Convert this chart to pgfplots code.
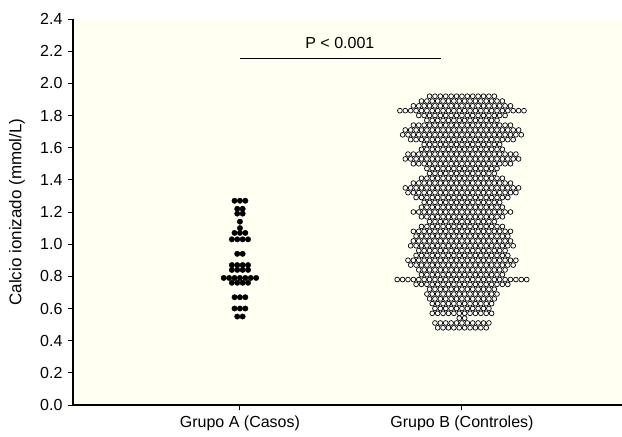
\documentclass[border=0pt]{standalone}
\usepackage{fontspec}
\setmainfont{Liberation Sans}
\usepackage{pgfplots}
\usepackage{pgfplotstable}
\pgfplotsset{compat=1.18}
\definecolor{bgc}{RGB}{255,255,242}
\pgfplotstableread[row sep=\\]{
s y\\
-1 1.27\\ 0 1.27\\ 1 1.27\\
-0.5 1.22\\ 0.5 1.22\\
-0.5 1.19\\ 0.5 1.19\\
0 1.14\\
0 1.10\\
-1 1.07\\ 0 1.07\\ 1 1.07\\
-1.5 1.03\\ -0.5 1.03\\ 0.5 1.03\\ 1.5 1.03\\
-0.5 0.94\\ 0.5 0.94\\
-1.5 0.87\\ -0.5 0.87\\ 0.5 0.87\\ 1.5 0.87\\
-1.5 0.84\\ -0.5 0.84\\ 0.5 0.84\\ 1.5 0.84\\
-3 0.79\\ -2 0.79\\ -1 0.79\\ 0 0.79\\ 1 0.79\\ 2 0.79\\ 3 0.79\\
-1.5 0.76\\ -0.5 0.76\\ 0.5 0.76\\ 1.5 0.76\\
-1 0.67\\ 0 0.67\\ 1 0.67\\
-1 0.60\\ 0 0.60\\ 1 0.60\\
-0.5 0.55\\ 0.5 0.55\\
}\grupoA
\pgfplotstableread[row sep=\\]{
s y\\
-6 1.92\\ -5 1.92\\ -4 1.92\\ -3 1.92\\ -2 1.92\\ -1 1.92\\ 0 1.92\\ 1 1.92\\ 2 1.92\\ 3 1.92\\ 4 1.92\\ 5 1.92\\ 6 1.92\\
-7.5 1.89\\ -6.5 1.89\\ -5.5 1.89\\ -4.5 1.89\\ -3.5 1.89\\ -2.5 1.89\\ -1.5 1.89\\ -0.5 1.89\\ 0.5 1.89\\ 1.5 1.89\\ 2.5 1.89\\ 3.5 1.89\\ 4.5 1.89\\ 5.5 1.89\\ 6.5 1.89\\ 7.5 1.89\\
-9 1.86\\ -8 1.86\\ -7 1.86\\ -6 1.86\\ -5 1.86\\ -4 1.86\\ -3 1.86\\ -2 1.86\\ -1 1.86\\ 0 1.86\\ 1 1.86\\ 2 1.86\\ 3 1.86\\ 4 1.86\\ 5 1.86\\ 6 1.86\\ 7 1.86\\ 8 1.86\\ 9 1.86\\
-11.5 1.83\\ -10.5 1.83\\ -9.5 1.83\\ -8.5 1.83\\ -7.5 1.83\\ -6.5 1.83\\ -5.5 1.83\\ -4.5 1.83\\ -3.5 1.83\\ -2.5 1.83\\ -1.5 1.83\\ -0.5 1.83\\ 0.5 1.83\\ 1.5 1.83\\ 2.5 1.83\\ 3.5 1.83\\ 4.5 1.83\\ 5.5 1.83\\ 6.5 1.83\\ 7.5 1.83\\ 8.5 1.83\\ 9.5 1.83\\ 10.5 1.83\\ 11.5 1.83\\
-8 1.80\\ -7 1.80\\ -6 1.80\\ -5 1.80\\ -4 1.80\\ -3 1.80\\ -2 1.80\\ -1 1.80\\ 0 1.80\\ 1 1.80\\ 2 1.80\\ 3 1.80\\ 4 1.80\\ 5 1.80\\ 6 1.80\\ 7 1.80\\ 8 1.80\\
-6.5 1.77\\ -5.5 1.77\\ -4.5 1.77\\ -3.5 1.77\\ -2.5 1.77\\ -1.5 1.77\\ -0.5 1.77\\ 0.5 1.77\\ 1.5 1.77\\ 2.5 1.77\\ 3.5 1.77\\ 4.5 1.77\\ 5.5 1.77\\ 6.5 1.77\\
-9 1.74\\ -8 1.74\\ -7 1.74\\ -6 1.74\\ -5 1.74\\ -4 1.74\\ -3 1.74\\ -2 1.74\\ -1 1.74\\ 0 1.74\\ 1 1.74\\ 2 1.74\\ 3 1.74\\ 4 1.74\\ 5 1.74\\ 6 1.74\\ 7 1.74\\ 8 1.74\\ 9 1.74\\
-10.5 1.71\\ -9.5 1.71\\ -8.5 1.71\\ -7.5 1.71\\ -6.5 1.71\\ -5.5 1.71\\ -4.5 1.71\\ -3.5 1.71\\ -2.5 1.71\\ -1.5 1.71\\ -0.5 1.71\\ 0.5 1.71\\ 1.5 1.71\\ 2.5 1.71\\ 3.5 1.71\\ 4.5 1.71\\ 5.5 1.71\\ 6.5 1.71\\ 7.5 1.71\\ 8.5 1.71\\ 9.5 1.71\\ 10.5 1.71\\
-11 1.68\\ -10 1.68\\ -9 1.68\\ -8 1.68\\ -7 1.68\\ -6 1.68\\ -5 1.68\\ -4 1.68\\ -3 1.68\\ -2 1.68\\ -1 1.68\\ 0 1.68\\ 1 1.68\\ 2 1.68\\ 3 1.68\\ 4 1.68\\ 5 1.68\\ 6 1.68\\ 7 1.68\\ 8 1.68\\ 9 1.68\\ 10 1.68\\ 11 1.68\\
-9.5 1.65\\ -8.5 1.65\\ -7.5 1.65\\ -6.5 1.65\\ -5.5 1.65\\ -4.5 1.65\\ -3.5 1.65\\ -2.5 1.65\\ -1.5 1.65\\ -0.5 1.65\\ 0.5 1.65\\ 1.5 1.65\\ 2.5 1.65\\ 3.5 1.65\\ 4.5 1.65\\ 5.5 1.65\\ 6.5 1.65\\ 7.5 1.65\\ 8.5 1.65\\ 9.5 1.65\\
-7 1.62\\ -6 1.62\\ -5 1.62\\ -4 1.62\\ -3 1.62\\ -2 1.62\\ -1 1.62\\ 0 1.62\\ 1 1.62\\ 2 1.62\\ 3 1.62\\ 4 1.62\\ 5 1.62\\ 6 1.62\\ 7 1.62\\
-7.5 1.59\\ -6.5 1.59\\ -5.5 1.59\\ -4.5 1.59\\ -3.5 1.59\\ -2.5 1.59\\ -1.5 1.59\\ -0.5 1.59\\ 0.5 1.59\\ 1.5 1.59\\ 2.5 1.59\\ 3.5 1.59\\ 4.5 1.59\\ 5.5 1.59\\ 6.5 1.59\\ 7.5 1.59\\
-10 1.56\\ -9 1.56\\ -8 1.56\\ -7 1.56\\ -6 1.56\\ -5 1.56\\ -4 1.56\\ -3 1.56\\ -2 1.56\\ -1 1.56\\ 0 1.56\\ 1 1.56\\ 2 1.56\\ 3 1.56\\ 4 1.56\\ 5 1.56\\ 6 1.56\\ 7 1.56\\ 8 1.56\\ 9 1.56\\ 10 1.56\\
-10.5 1.53\\ -9.5 1.53\\ -8.5 1.53\\ -7.5 1.53\\ -6.5 1.53\\ -5.5 1.53\\ -4.5 1.53\\ -3.5 1.53\\ -2.5 1.53\\ -1.5 1.53\\ -0.5 1.53\\ 0.5 1.53\\ 1.5 1.53\\ 2.5 1.53\\ 3.5 1.53\\ 4.5 1.53\\ 5.5 1.53\\ 6.5 1.53\\ 7.5 1.53\\ 8.5 1.53\\ 9.5 1.53\\ 10.5 1.53\\
-9 1.50\\ -8 1.50\\ -7 1.50\\ -6 1.50\\ -5 1.50\\ -4 1.50\\ -3 1.50\\ -2 1.50\\ -1 1.50\\ 0 1.50\\ 1 1.50\\ 2 1.50\\ 3 1.50\\ 4 1.50\\ 5 1.50\\ 6 1.50\\ 7 1.50\\ 8 1.50\\ 9 1.50\\
-6.5 1.47\\ -5.5 1.47\\ -4.5 1.47\\ -3.5 1.47\\ -2.5 1.47\\ -1.5 1.47\\ -0.5 1.47\\ 0.5 1.47\\ 1.5 1.47\\ 2.5 1.47\\ 3.5 1.47\\ 4.5 1.47\\ 5.5 1.47\\ 6.5 1.47\\
-6 1.44\\ -5 1.44\\ -4 1.44\\ -3 1.44\\ -2 1.44\\ -1 1.44\\ 0 1.44\\ 1 1.44\\ 2 1.44\\ 3 1.44\\ 4 1.44\\ 5 1.44\\ 6 1.44\\
-7.5 1.41\\ -6.5 1.41\\ -5.5 1.41\\ -4.5 1.41\\ -3.5 1.41\\ -2.5 1.41\\ -1.5 1.41\\ -0.5 1.41\\ 0.5 1.41\\ 1.5 1.41\\ 2.5 1.41\\ 3.5 1.41\\ 4.5 1.41\\ 5.5 1.41\\ 6.5 1.41\\ 7.5 1.41\\
-9 1.38\\ -8 1.38\\ -7 1.38\\ -6 1.38\\ -5 1.38\\ -4 1.38\\ -3 1.38\\ -2 1.38\\ -1 1.38\\ 0 1.38\\ 1 1.38\\ 2 1.38\\ 3 1.38\\ 4 1.38\\ 5 1.38\\ 6 1.38\\ 7 1.38\\ 8 1.38\\ 9 1.38\\
-10.5 1.35\\ -9.5 1.35\\ -8.5 1.35\\ -7.5 1.35\\ -6.5 1.35\\ -5.5 1.35\\ -4.5 1.35\\ -3.5 1.35\\ -2.5 1.35\\ -1.5 1.35\\ -0.5 1.35\\ 0.5 1.35\\ 1.5 1.35\\ 2.5 1.35\\ 3.5 1.35\\ 4.5 1.35\\ 5.5 1.35\\ 6.5 1.35\\ 7.5 1.35\\ 8.5 1.35\\ 9.5 1.35\\ 10.5 1.35\\
-10 1.32\\ -9 1.32\\ -8 1.32\\ -7 1.32\\ -6 1.32\\ -5 1.32\\ -4 1.32\\ -3 1.32\\ -2 1.32\\ -1 1.32\\ 0 1.32\\ 1 1.32\\ 2 1.32\\ 3 1.32\\ 4 1.32\\ 5 1.32\\ 6 1.32\\ 7 1.32\\ 8 1.32\\ 9 1.32\\ 10 1.32\\
-8.5 1.29\\ -7.5 1.29\\ -6.5 1.29\\ -5.5 1.29\\ -4.5 1.29\\ -3.5 1.29\\ -2.5 1.29\\ -1.5 1.29\\ -0.5 1.29\\ 0.5 1.29\\ 1.5 1.29\\ 2.5 1.29\\ 3.5 1.29\\ 4.5 1.29\\ 5.5 1.29\\ 6.5 1.29\\ 7.5 1.29\\ 8.5 1.29\\
-7 1.26\\ -6 1.26\\ -5 1.26\\ -4 1.26\\ -3 1.26\\ -2 1.26\\ -1 1.26\\ 0 1.26\\ 1 1.26\\ 2 1.26\\ 3 1.26\\ 4 1.26\\ 5 1.26\\ 6 1.26\\ 7 1.26\\
-7.5 1.23\\ -6.5 1.23\\ -5.5 1.23\\ -4.5 1.23\\ -3.5 1.23\\ -2.5 1.23\\ -1.5 1.23\\ -0.5 1.23\\ 0.5 1.23\\ 1.5 1.23\\ 2.5 1.23\\ 3.5 1.23\\ 4.5 1.23\\ 5.5 1.23\\ 6.5 1.23\\ 7.5 1.23\\
-9 1.20\\ -8 1.20\\ -7 1.20\\ -6 1.20\\ -5 1.20\\ -4 1.20\\ -3 1.20\\ -2 1.20\\ -1 1.20\\ 0 1.20\\ 1 1.20\\ 2 1.20\\ 3 1.20\\ 4 1.20\\ 5 1.20\\ 6 1.20\\ 7 1.20\\ 8 1.20\\ 9 1.20\\
-7.5 1.17\\ -6.5 1.17\\ -5.5 1.17\\ -4.5 1.17\\ -3.5 1.17\\ -2.5 1.17\\ -1.5 1.17\\ -0.5 1.17\\ 0.5 1.17\\ 1.5 1.17\\ 2.5 1.17\\ 3.5 1.17\\ 4.5 1.17\\ 5.5 1.17\\ 6.5 1.17\\ 7.5 1.17\\
-6 1.14\\ -5 1.14\\ -4 1.14\\ -3 1.14\\ -2 1.14\\ -1 1.14\\ 0 1.14\\ 1 1.14\\ 2 1.14\\ 3 1.14\\ 4 1.14\\ 5 1.14\\ 6 1.14\\
-7.5 1.11\\ -6.5 1.11\\ -5.5 1.11\\ -4.5 1.11\\ -3.5 1.11\\ -2.5 1.11\\ -1.5 1.11\\ -0.5 1.11\\ 0.5 1.11\\ 1.5 1.11\\ 2.5 1.11\\ 3.5 1.11\\ 4.5 1.11\\ 5.5 1.11\\ 6.5 1.11\\ 7.5 1.11\\
-9 1.08\\ -8 1.08\\ -7 1.08\\ -6 1.08\\ -5 1.08\\ -4 1.08\\ -3 1.08\\ -2 1.08\\ -1 1.08\\ 0 1.08\\ 1 1.08\\ 2 1.08\\ 3 1.08\\ 4 1.08\\ 5 1.08\\ 6 1.08\\ 7 1.08\\ 8 1.08\\ 9 1.08\\
-8.5 1.05\\ -7.5 1.05\\ -6.5 1.05\\ -5.5 1.05\\ -4.5 1.05\\ -3.5 1.05\\ -2.5 1.05\\ -1.5 1.05\\ -0.5 1.05\\ 0.5 1.05\\ 1.5 1.05\\ 2.5 1.05\\ 3.5 1.05\\ 4.5 1.05\\ 5.5 1.05\\ 6.5 1.05\\ 7.5 1.05\\ 8.5 1.05\\
-9 1.02\\ -8 1.02\\ -7 1.02\\ -6 1.02\\ -5 1.02\\ -4 1.02\\ -3 1.02\\ -2 1.02\\ -1 1.02\\ 0 1.02\\ 1 1.02\\ 2 1.02\\ 3 1.02\\ 4 1.02\\ 5 1.02\\ 6 1.02\\ 7 1.02\\ 8 1.02\\ 9 1.02\\
-9.5 0.99\\ -8.5 0.99\\ -7.5 0.99\\ -6.5 0.99\\ -5.5 0.99\\ -4.5 0.99\\ -3.5 0.99\\ -2.5 0.99\\ -1.5 0.99\\ -0.5 0.99\\ 0.5 0.99\\ 1.5 0.99\\ 2.5 0.99\\ 3.5 0.99\\ 4.5 0.99\\ 5.5 0.99\\ 6.5 0.99\\ 7.5 0.99\\ 8.5 0.99\\ 9.5 0.99\\
-8 0.96\\ -7 0.96\\ -6 0.96\\ -5 0.96\\ -4 0.96\\ -3 0.96\\ -2 0.96\\ -1 0.96\\ 0 0.96\\ 1 0.96\\ 2 0.96\\ 3 0.96\\ 4 0.96\\ 5 0.96\\ 6 0.96\\ 7 0.96\\ 8 0.96\\
-8.5 0.93\\ -7.5 0.93\\ -6.5 0.93\\ -5.5 0.93\\ -4.5 0.93\\ -3.5 0.93\\ -2.5 0.93\\ -1.5 0.93\\ -0.5 0.93\\ 0.5 0.93\\ 1.5 0.93\\ 2.5 0.93\\ 3.5 0.93\\ 4.5 0.93\\ 5.5 0.93\\ 6.5 0.93\\ 7.5 0.93\\ 8.5 0.93\\
-10 0.90\\ -9 0.90\\ -8 0.90\\ -7 0.90\\ -6 0.90\\ -5 0.90\\ -4 0.90\\ -3 0.90\\ -2 0.90\\ -1 0.90\\ 0 0.90\\ 1 0.90\\ 2 0.90\\ 3 0.90\\ 4 0.90\\ 5 0.90\\ 6 0.90\\ 7 0.90\\ 8 0.90\\ 9 0.90\\ 10 0.90\\
-9.5 0.87\\ -8.5 0.87\\ -7.5 0.87\\ -6.5 0.87\\ -5.5 0.87\\ -4.5 0.87\\ -3.5 0.87\\ -2.5 0.87\\ -1.5 0.87\\ -0.5 0.87\\ 0.5 0.87\\ 1.5 0.87\\ 2.5 0.87\\ 3.5 0.87\\ 4.5 0.87\\ 5.5 0.87\\ 6.5 0.87\\ 7.5 0.87\\ 8.5 0.87\\ 9.5 0.87\\
-8 0.84\\ -7 0.84\\ -6 0.84\\ -5 0.84\\ -4 0.84\\ -3 0.84\\ -2 0.84\\ -1 0.84\\ 0 0.84\\ 1 0.84\\ 2 0.84\\ 3 0.84\\ 4 0.84\\ 5 0.84\\ 6 0.84\\ 7 0.84\\ 8 0.84\\
-7.5 0.81\\ -6.5 0.81\\ -5.5 0.81\\ -4.5 0.81\\ -3.5 0.81\\ -2.5 0.81\\ -1.5 0.81\\ -0.5 0.81\\ 0.5 0.81\\ 1.5 0.81\\ 2.5 0.81\\ 3.5 0.81\\ 4.5 0.81\\ 5.5 0.81\\ 6.5 0.81\\ 7.5 0.81\\
-12 0.78\\ -11 0.78\\ -10 0.78\\ -9 0.78\\ -8 0.78\\ -7 0.78\\ -6 0.78\\ -5 0.78\\ -4 0.78\\ -3 0.78\\ -2 0.78\\ -1 0.78\\ 0 0.78\\ 1 0.78\\ 2 0.78\\ 3 0.78\\ 4 0.78\\ 5 0.78\\ 6 0.78\\ 7 0.78\\ 8 0.78\\ 9 0.78\\ 10 0.78\\ 11 0.78\\ 12 0.78\\
-8.5 0.75\\ -7.5 0.75\\ -6.5 0.75\\ -5.5 0.75\\ -4.5 0.75\\ -3.5 0.75\\ -2.5 0.75\\ -1.5 0.75\\ -0.5 0.75\\ 0.5 0.75\\ 1.5 0.75\\ 2.5 0.75\\ 3.5 0.75\\ 4.5 0.75\\ 5.5 0.75\\ 6.5 0.75\\ 7.5 0.75\\ 8.5 0.75\\
-6 0.72\\ -5 0.72\\ -4 0.72\\ -3 0.72\\ -2 0.72\\ -1 0.72\\ 0 0.72\\ 1 0.72\\ 2 0.72\\ 3 0.72\\ 4 0.72\\ 5 0.72\\ 6 0.72\\
-6.5 0.69\\ -5.5 0.69\\ -4.5 0.69\\ -3.5 0.69\\ -2.5 0.69\\ -1.5 0.69\\ -0.5 0.69\\ 0.5 0.69\\ 1.5 0.69\\ 2.5 0.69\\ 3.5 0.69\\ 4.5 0.69\\ 5.5 0.69\\ 6.5 0.69\\
-6 0.66\\ -5 0.66\\ -4 0.66\\ -3 0.66\\ -2 0.66\\ -1 0.66\\ 0 0.66\\ 1 0.66\\ 2 0.66\\ 3 0.66\\ 4 0.66\\ 5 0.66\\ 6 0.66\\
-5.5 0.63\\ -4.5 0.63\\ -3.5 0.63\\ -2.5 0.63\\ -1.5 0.63\\ -0.5 0.63\\ 0.5 0.63\\ 1.5 0.63\\ 2.5 0.63\\ 3.5 0.63\\ 4.5 0.63\\ 5.5 0.63\\
-5 0.60\\ -4 0.60\\ -3 0.60\\ -2 0.60\\ -1 0.60\\ 0 0.60\\ 1 0.60\\ 2 0.60\\ 3 0.60\\ 4 0.60\\ 5 0.60\\
-5.5 0.57\\ -4.5 0.57\\ -3.5 0.57\\ -2.5 0.57\\ -1.5 0.57\\ -0.5 0.57\\ 0.5 0.57\\ 1.5 0.57\\ 2.5 0.57\\ 3.5 0.57\\ 4.5 0.57\\ 5.5 0.57\\
-0.5 0.54\\ 0.5 0.54\\
-5 0.51\\ -4 0.51\\ -3 0.51\\ -2 0.51\\ -1 0.51\\ 0 0.51\\ 1 0.51\\ 2 0.51\\ 3 0.51\\ 4 0.51\\ 5 0.51\\
-4.5 0.48\\ -3.5 0.48\\ -2.5 0.48\\ -1.5 0.48\\ -0.5 0.48\\ 0.5 0.48\\ 1.5 0.48\\ 2.5 0.48\\ 3.5 0.48\\ 4.5 0.48\\
}\grupoB
\begin{document}
\fontsize{16}{19}\selectfont
\begin{tikzpicture}
\useasboundingbox (-73pt,-32pt) rectangle (549pt,405pt);
\begin{axis}[
  at={(0,0)}, anchor=south west,
  scale only axis, width=549pt, height=386pt,
  xmin=-0.752, xmax=1.721, ymin=0, ymax=2.4,
  axis lines=left,
  axis line style={-, line width=1.3pt},
  axis background/.style={fill=bgc},
  xtick={0,1}, xticklabels={Grupo A (Casos), Grupo B (Controles)},
  ytick={0,0.2,0.4,0.6,0.8,1.0,1.2,1.4,1.6,1.8,2.0,2.2,2.4},
  tick align=outside, major tick length=5pt,
  tick style={black, line width=1pt},
  yticklabel style={/pgf/number format/.cd, fixed, fixed zerofill, precision=1},
  /pgf/number format/assume math mode=true,
  tick label style={font=\fontsize{16}{19}\selectfont},
  ylabel={Calcio ionizado (mmol/L)},
  ylabel style={at={(axis description cs:-0.102,0.5)}, anchor=center, font=\fontsize{17}{20}\selectfont},
  clip=false,
]
\addplot[only marks, mark=*, mark size=2.4pt, mark options={fill=white, draw=black, line width=0.7pt}]
  table[x expr=1+0.0243*\thisrow{s}, y=y] {\grupoB};
\addplot[only marks, mark=*, mark size=2.7pt, black]
  table[x expr=0.0243*\thisrow{s}, y=y] {\grupoA};
\addplot[black, line width=1pt] coordinates {(0,2.155) (0.905,2.155)};
\node[font=\fontsize{16}{19}\selectfont] at (axis cs:0.45,2.25) {P < 0.001};
\end{axis}
\end{tikzpicture}
\end{document}
